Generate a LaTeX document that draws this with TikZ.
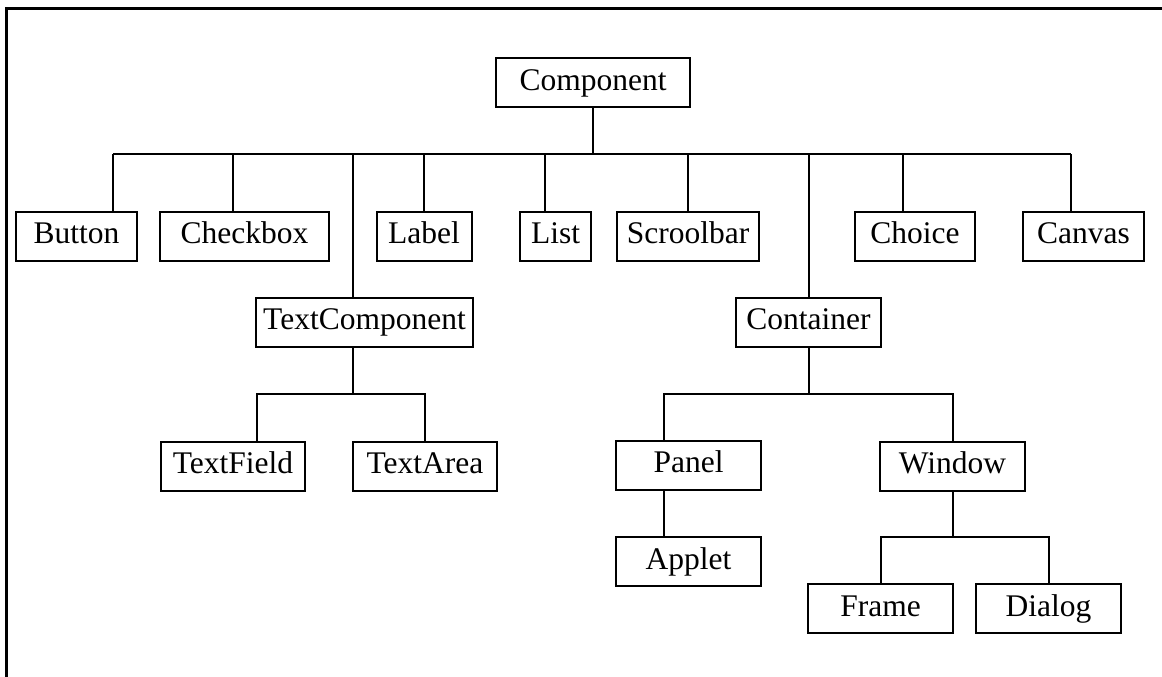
\documentclass[tikz,border=0pt]{standalone}
\usepackage{fontspec}
\setmainfont{Liberation Serif}
\begin{document}
\begin{tikzpicture}[x=1pt,y=-1pt,
        cls/.style={draw,line width=2pt,inner sep=0pt,minimum height=49pt,
            text height=22pt,text depth=7pt,font=\fontsize{31.5}{36}\selectfont},
        link/.style={line width=2pt}]
        \useasboundingbox (0,0) rectangle (1162,677);
        % Draw frame (top and left edge only)
        \draw[line width=3pt] (6,677) -- (6,9) -- (1162,9);

        % Root class
        \node[cls,minimum width=194pt] (comp) at (593,82.5) {Component};

        % First level
        \node[cls,minimum width=121pt] (button) at (76.5,236) {Button};
        \node[cls,minimum width=169pt] (checkbox) at (244.5,236) {Checkbox};
        \node[cls,minimum width=95pt] (label) at (424,236) {Label};
        \node[cls,minimum width=71pt] (list) at (555.5,236) {List};
        \node[cls,minimum width=142pt] (scroll) at (688,236) {Scroolbar};
        \node[cls,minimum width=120pt] (choice) at (915,236) {Choice};
        \node[cls,minimum width=121pt] (canvas) at (1083.5,236) {Canvas};
        \node[cls,minimum width=217pt] (textcomp) at (364.5,322) {TextComponent};
        \node[cls,minimum width=145pt] (container) at (808.5,322) {Container};

        % Lower levels
        \node[cls,minimum width=144pt] (textfield) at (233,466) {TextField};
        \node[cls,minimum width=144pt] (textarea) at (425,466) {TextArea};
        \node[cls,minimum width=145pt] (panel) at (688.5,465) {Panel};
        \node[cls,minimum width=145pt] (window) at (952.5,466) {Window};
        \node[cls,minimum width=145pt] (applet) at (688.5,561.5) {Applet};
        \node[cls,minimum width=145pt] (frame) at (880.5,608.5) {Frame};
        \node[cls,minimum width=145pt] (dialog) at (1048.5,608.5) {Dialog};

        % Bus under the root
        \coordinate (bus) at (0,154);
        \draw[link] (comp.south) -- (comp.south |- bus);
        \draw[link] ([xshift=36.5pt]button.north |- bus) -- ([xshift=-12.5pt]canvas.north |- bus);
        \foreach \n/\dx in {button/36.5,checkbox/-11.5,label/0,list/-10.5,scroll/0,
                choice/-12,canvas/-12.5,textcomp/-12,container/0}
           {
                \draw[link] ([xshift=\dx pt]\n.north) -- ([xshift=\dx pt]\n.north |- bus);
           }

        % TextComponent and Container subtrees
        \coordinate (tbus) at (0,394);
        \draw[link] ([xshift=-12pt]textcomp.south) -- ([xshift=-12pt]textcomp.south |- tbus);
        \draw[link] ([xshift=23.5pt]textfield.north) |- (textarea.north |- tbus) -- (textarea.north);
        \draw[link] (container.south) -- (container.south |- tbus);
        \draw[link] ([xshift=-24.5pt]panel.north) |- (window.north |- tbus) -- (window.north);
        \draw[link] ([xshift=-24.5pt]panel.south) -- ([xshift=-24.5pt]applet.north);

        % Window subtree
        \coordinate (wbus) at (0,537);
        \draw[link] (window.south) -- (window.south |- wbus);
        \draw[link] (frame.north) |- (dialog.north |- wbus) -- (dialog.north);
    \end{tikzpicture}
\end{document}
